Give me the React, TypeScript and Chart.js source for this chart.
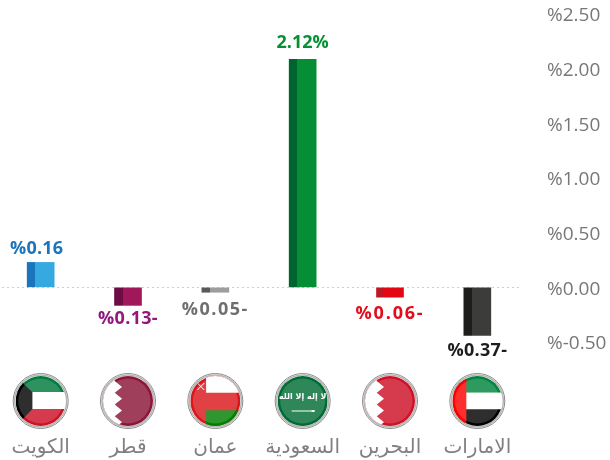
import React, { useEffect, useRef } from "react";
import { Chart, registerables } from "chart.js";

Chart.register(...registerables);

const categories = ["الكويت", "قطر", "عمان", "السعودية", "البحرين", "الامارات"];
const flagKeys = ["kw", "qa", "om", "sa", "bh", "ae"];
// Bar heights as drawn in the picture (read against the axis)
const barValues = [0.228, -0.165, -0.045, 2.085, -0.09, -0.44];
// Value captions as printed above/below each bar
const captions = ["%0.16", "%0.13-", "%0.05-", "2.12%", "%0.06-", "%0.37-"];
const darkColors = ["#1b75bc", "#6e0d45", "#595959", "#00642f", "#be1622", "#1d1d1b"];
const lightColors = ["#36a9e1", "#a0185a", "#9d9d9d", "#058e33", "#e30613", "#3c3c3b"];
const captionColors = ["#1b75bc", "#92187f", "#706f6f", "#059033", "#e30b1c", "#1d1d1b"];
const captionGaps = [14, 14, 18, 16, 17, 15];
const captionTracking = [0.2, 0.3, 1.5, 0, 1.8, 0.3];
const captionShift = [-4, 0, 0, 0, 0, 0];

const BAR = 27;
const DARK = 8;
const NUM_FONT = '"Open Sans", "DejaVu Sans", sans-serif';

function paintFlag(c: CanvasRenderingContext2D, key: string, x: number, y: number, r: number) {
  const L = x - r, T = y - r, S = 2 * r;
  const rect = (col: string, a: number, b: number, w: number, h: number) => {
    c.fillStyle = col;
    c.fillRect(a, b, w, h);
  };
  const serrated = (col: string) => {
    rect(col, L, T, S, S);
    c.fillStyle = "#fff";
    c.beginPath();
    c.moveTo(L, T);
    const base = x - r * 0.53;
    const tip = x - r * 0.24;
    const y0 = y - r * 0.8, h = r * 0.47;
    c.lineTo(base, T);
    c.lineTo(base, y0);
    for (let i = 0; i < 4; i++) {
      c.lineTo(tip, y0 + h * (i + 0.5));
      c.lineTo(base, y0 + h * (i + 1));
    }
    c.lineTo(base, T + S);
    c.lineTo(L, T + S);
    c.closePath();
    c.fill();
  };
  if (key === "kw") {
    rect("#fff", L, T, S, S);
    rect("#007a3d", L, T, S, r * 0.64);
    rect("#ce1126", L, y + r * 0.32, S, r);
    c.fillStyle = "#000";
    c.beginPath();
    c.moveTo(L, T);
    c.lineTo(x - r * 0.7, T);
    c.lineTo(x - r * 0.7, y - r * 0.7);
    c.lineTo(x - r * 0.33, y - r * 0.35);
    c.lineTo(x - r * 0.33, y + r * 0.32);
    c.lineTo(x - r * 0.7, y + r * 0.7);
    c.lineTo(x - r * 0.7, T + S);
    c.lineTo(L, T + S);
    c.closePath();
    c.fill();
  } else if (key === "qa") {
    serrated("#8a1538");
  } else if (key === "bh") {
    serrated("#ce1126");
  } else if (key === "om") {
    rect("#db161b", L, T, S, S);
    rect("#fff", x - r * 0.37, T, S, r * 0.67);
    rect("#008000", x - r * 0.37, y + r * 0.37, S, r);
    c.strokeStyle = "#fff";
    c.lineWidth = 1;
    c.beginPath();
    c.moveTo(x - r * 0.72, y - r * 0.72);
    c.lineTo(x - r * 0.44, y - r * 0.44);
    c.moveTo(x - r * 0.44, y - r * 0.72);
    c.lineTo(x - r * 0.72, y - r * 0.44);
    c.stroke();
  } else if (key === "sa") {
    rect("#006c35", L, T, S, S);
    c.fillStyle = "#fff";
    c.font = 'bold 8px "DejaVu Sans", sans-serif';
    c.textAlign = "center";
    c.textBaseline = "middle";
    c.fillText("لا إله إلا الله", x, y - 4);
    c.fillRect(x - 11, y + 9.5, 22, 1);
    c.fillRect(x + 9, y + 9, 3, 2);
  } else if (key === "ae") {
    rect("#00843d", L, T, S, r * 0.67);
    rect("#fff", L, y - r * 0.33, S, r * 0.68);
    rect("#000", L, y + r * 0.33, S, r);
    rect("#ff0000", L, T, r * 0.56, S);
  }
}

const tickShiftPlugin = {
  id: "tickShift",
  beforeDraw(chart: any) {
    if (chart.$shifted) return;
    chart.$shifted = true;
    chart.scales.y.getLabelItems().forEach((item: any) => {
      item.options.translation[1] += 2;
    });
  },
};

const captionsPlugin = {
  id: "captions",
  afterDatasetsDraw(chart: any) {
    const c = chart.ctx as CanvasRenderingContext2D;
    const meta = chart.getDatasetMeta(0);
    c.save();
    c.font = `bold 18px ${NUM_FONT}`;
    c.textAlign = "center";
    c.textBaseline = "middle";
    meta.data.forEach((bar: any, i: number) => {
      (c as any).letterSpacing = captionTracking[i] + "px";
      const x = bar.x + captionShift[i];
      const y = barValues[i] >= 0 ? bar.y - captionGaps[i] : bar.y + captionGaps[i];
      c.fillStyle = captionColors[i];
      c.fillText(captions[i], x, y);
    });
    c.restore();
  },
};

const flagsPlugin = {
  id: "flags",
  afterDraw(chart: any) {
    const c = chart.ctx as CanvasRenderingContext2D;
    const xs = chart.scales.x;
    const y = 401;
    flagKeys.forEach((key, i) => {
      const x = xs.getPixelForValue(i);
      c.save();
      c.beginPath();
      c.arc(x, y, 27.5, 0, Math.PI * 2);
      c.strokeStyle = "#8a8a8a";
      c.lineWidth = 1;
      c.stroke();
      c.beginPath();
      c.arc(x, y, 26, 0, Math.PI * 2);
      c.strokeStyle = "#b5b5b5";
      c.lineWidth = 1.5;
      c.stroke();
      c.beginPath();
      c.arc(x, y, 25, 0, Math.PI * 2);
      c.clip();
      paintFlag(c, key, x, y, 25);
      c.beginPath();
      c.arc(x, y, 22.5, 0, Math.PI * 2);
      c.fillStyle = "rgba(255,255,255,0.18)";
      c.fill();
      c.restore();
    });
  },
};

function twoTone(ctx: any) {
  const i = ctx.dataIndex;
  const xs = ctx.chart.scales.x;
  if (i === undefined || !xs) return lightColors[0];
  const left = xs.getPixelForValue(i) - BAR / 2;
  if (!Number.isFinite(left)) return lightColors[i];
  const g = ctx.chart.ctx.createLinearGradient(left, 0, left + BAR, 0);
  const stop = DARK / BAR;
  g.addColorStop(0, darkColors[i]);
  g.addColorStop(stop, darkColors[i]);
  g.addColorStop(stop, lightColors[i]);
  g.addColorStop(1, lightColors[i]);
  return g;
}

export default function App() {
  const ref = useRef<HTMLCanvasElement>(null);
  useEffect(() => {
    const chart = new Chart(ref.current!, {
      type: "bar",
      data: {
        labels: categories,
        datasets: [{ data: barValues, backgroundColor: twoTone, barThickness: BAR }],
      },
      options: {
        animation: false,
        responsive: false,
        events: [],
        layout: { padding: { top: 14, bottom: 0, left: 0, right: 0 } },
        plugins: { legend: { display: false }, tooltip: { enabled: false } },
        scales: {
          x: {
            afterFit(s: any) {
              s.height = 118;
              s.paddingLeft = 0;
              s.paddingRight = 0;
            },
            grid: { display: false },
            border: { display: false },
            ticks: {
              padding: 86,
              maxRotation: 0,
              autoSkip: false,
              color: "#808080",
              font: { family: '"DejaVu Sans", sans-serif', size: 20 },
            },
          },
          y: {
            position: "right",
            min: -0.5,
            max: 2.5,
            afterFit(s: any) {
              s.width = 89;
              s.paddingTop = 0;
              s.paddingBottom = 0;
            },
            grid: {
              drawTicks: false,
              color: (ctx: any) => (ctx.tick && ctx.tick.value === 0 ? "#cfcfcf" : "transparent"),
              lineWidth: 1,
            },
            border: { display: false, dash: [2, 3] },
            ticks: {
              stepSize: 0.5,
              padding: 26,
              crossAlign: "near",
              color: "#777777",
              font: { family: NUM_FONT, size: 19 },
              callback: (v: any) => "%" + Number(v).toFixed(2),
            },
          },
        },
      } as any,
      plugins: [tickShiftPlugin, captionsPlugin, flagsPlugin],
    } as any);
    return () => chart.destroy();
  }, []);
  return (
    <div style={{ position: "fixed", left: -3, top: 0, width: 613, height: 460, background: "#fff" }}>
      <canvas ref={ref} width={613} height={460} style={{ display: "block" }} />
    </div>
  );
}
